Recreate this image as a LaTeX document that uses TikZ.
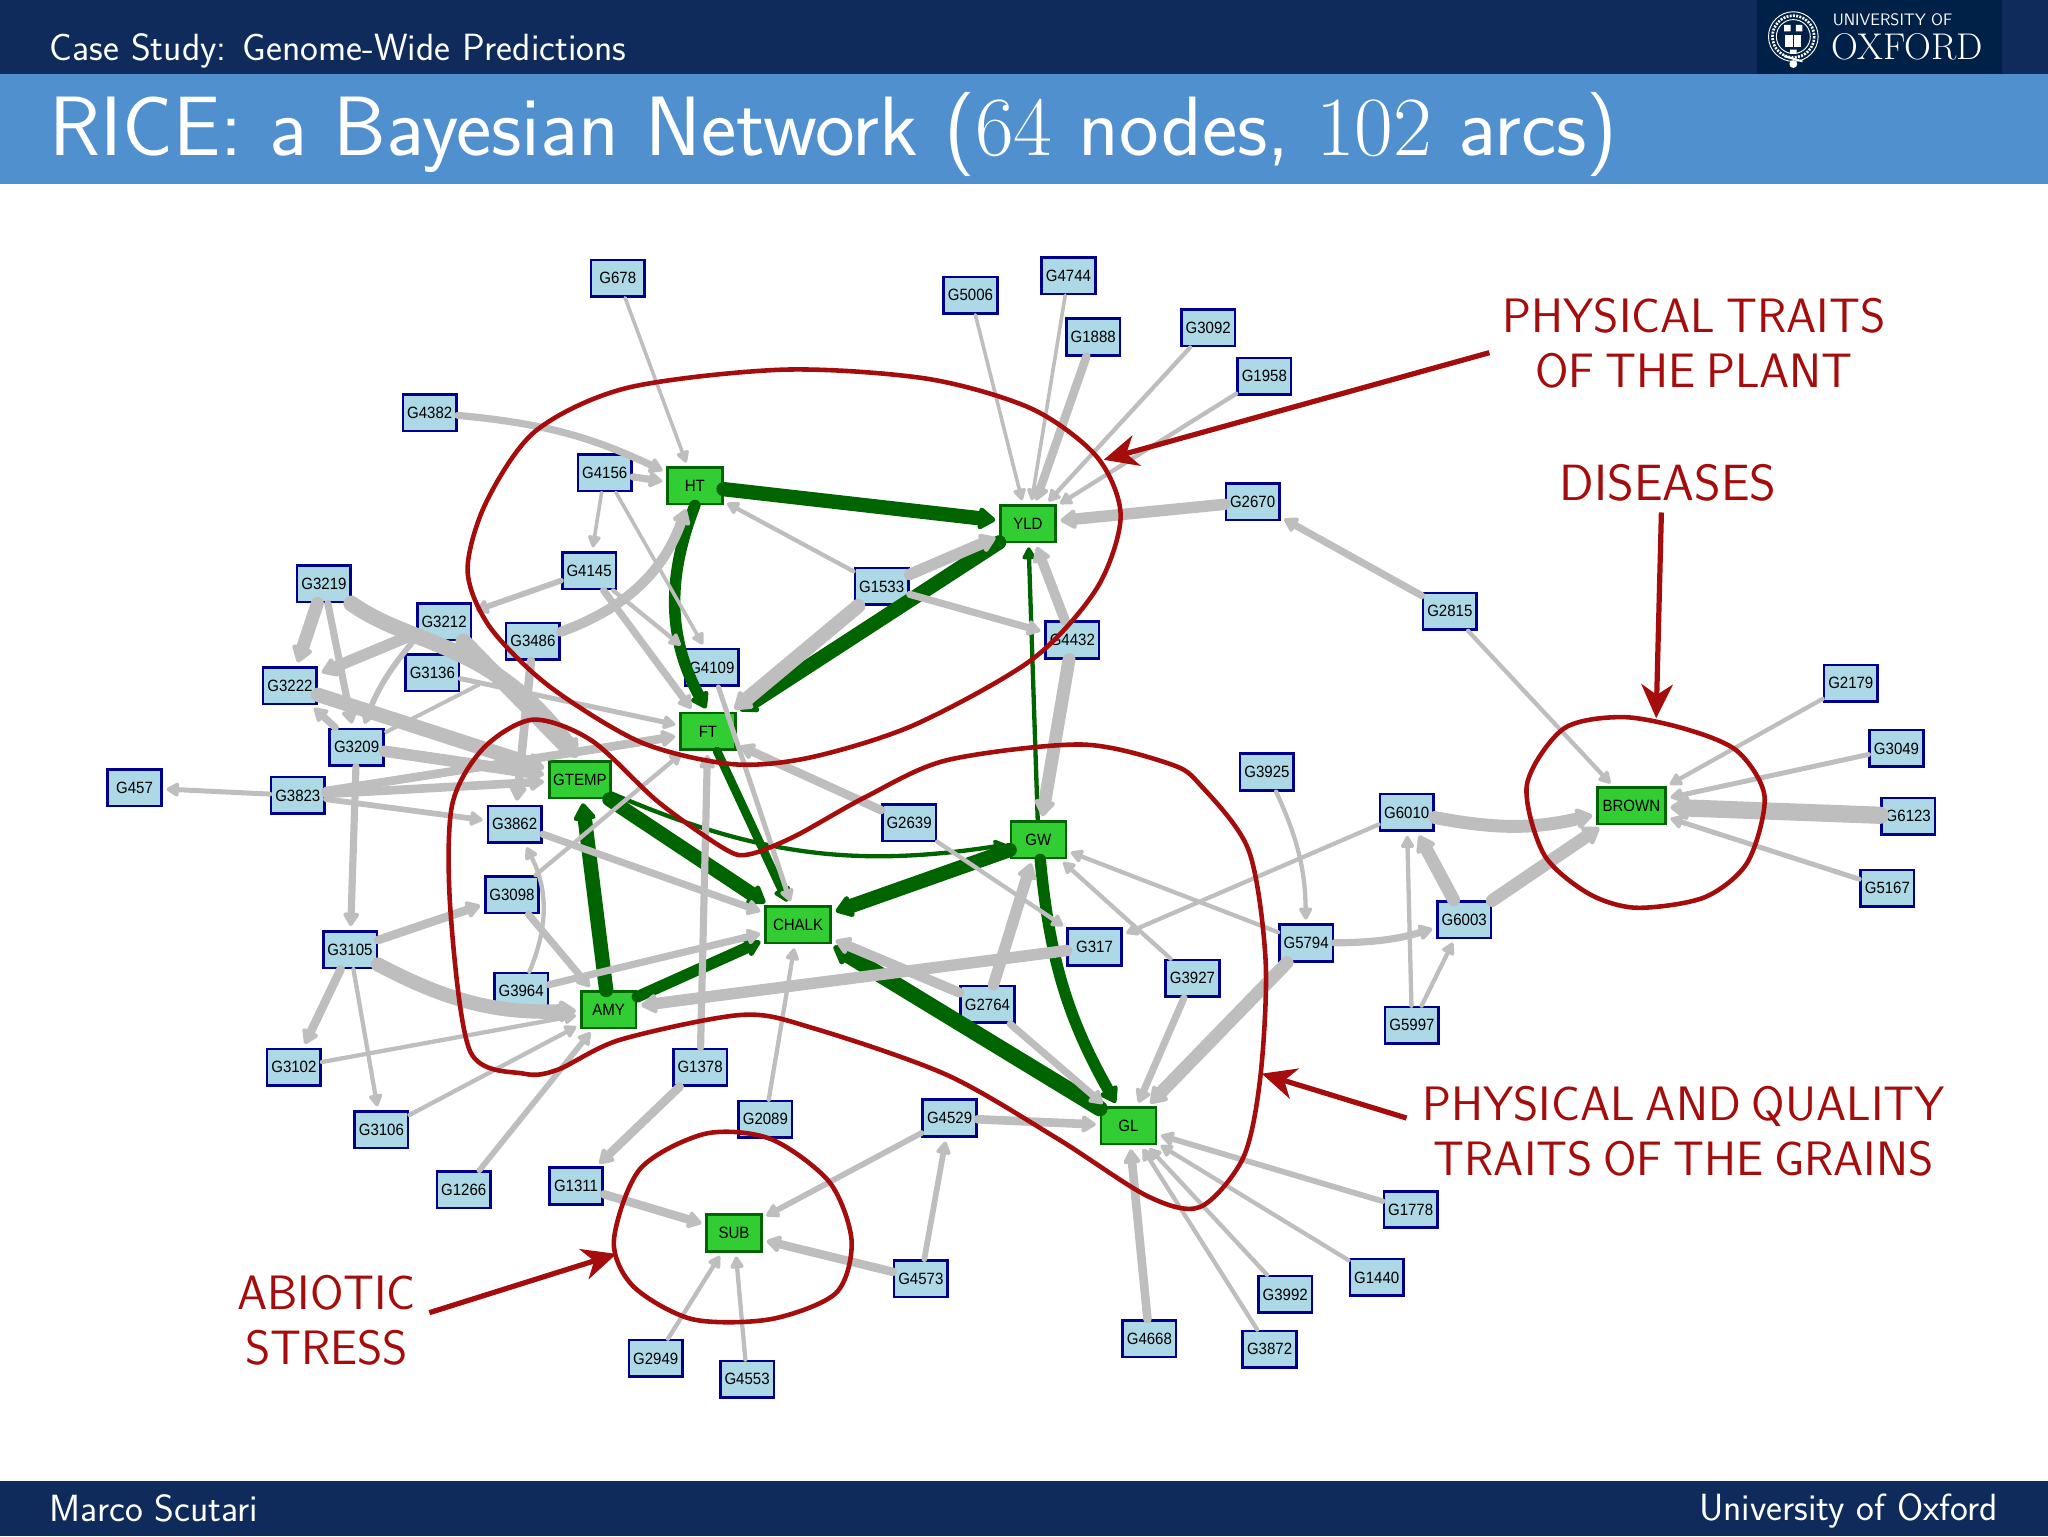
\documentclass[tikz,border=0pt]{standalone}
\usepackage{fontspec}
\usepackage{tikz}
\usetikzlibrary{arrows.meta}
\newfontfamily\genefont[FakeStretch=0.92]{Liberation Sans}
\newcommand\notefont{\sffamily\fontsize{37}{42}\selectfont\spaceskip=.22em\relax}
\definecolor{oxnavy}{HTML}{0F2B5C}
\definecolor{oxlogo}{HTML}{002147}
\definecolor{oxblue}{HTML}{5090CF}
\definecolor{oxred}{HTML}{A50C0C}
\definecolor{arcgray}{HTML}{BEBEBE}
\definecolor{arcgreen}{HTML}{006400}
\definecolor{genefill}{HTML}{ADD8E6}
\definecolor{genedraw}{HTML}{00008B}
\definecolor{traitfill}{HTML}{32CD32}
\tikzset{
    gene/.style={
           rectangle,
           draw=genedraw, line width=2pt,
           fill=genefill,
           minimum width=41pt,
           minimum height=28pt,
           inner sep=0pt,
           font=\genefont\fontsize{12.5}{13}\selectfont,
           text centered,
           },
    trait/.style={
           rectangle,
           draw=arcgreen, line width=2pt,
           fill=traitfill,
           minimum width=42pt,
           minimum height=28pt,
           inner sep=0pt,
           font=\genefont\fontsize{12.5}{13}\selectfont,
           text centered,
           },
    grayarc/.style={
           ->, draw=arcgray, line width=1.1*#1, line cap=round,
           shorten >=3pt,
           },
    greenarc/.style={
           ->, draw=arcgreen, line width=1.1*#1, line cap=round,
           shorten >=3pt,
           },
    group/.style={
           draw=oxred, line width=3.5pt,
           },
    pointer/.style={
           -{Stealth[length=26pt,width=24pt,inset=8pt]},
           draw=oxred, line width=4pt,
           },
    note/.style={
           text=oxred, align=center, inner sep=0pt,
           font=\notefont,
           },
    slidetext/.style={
           text=white, inner sep=0pt,
           font=\sffamily\fontsize{29}{32}\selectfont,
           },
}
\begin{document}
\begin{tikzpicture}
[
x=1pt,y=-1pt,
>={Stealth[round,line width=1pt 0.55,inset=0pt,length=9pt 0.5,width=8pt 1]}
]
\useasboundingbox (0,0) rectangle (1568,1176);

 % Slide frame
 \fill[oxnavy] (0,0) rectangle (1568,57);
 \fill[oxblue] (0,57) rectangle (1568,141);
 \fill[oxnavy] (0,1134) rectangle (1568,1176);
 \fill[oxlogo] (1345,0) rectangle (1533,57);

 \node[slidetext,anchor=west] (SECTION) at (38,39) {Case Study: Genome-Wide Predictions};
 \node[slidetext,anchor=west,font=\sffamily\fontsize{64.5}{70}\selectfont] (TITLE) at (38,103) {RICE: a Bayesian Network ({\rmfamily 64} nodes, {\rmfamily 102} arcs)};
 \node[slidetext,anchor=west] (AUTHOR) at (38,1155) {Marco Scutari};
 \node[slidetext,anchor=east] (PLACE) at (1530,1157) {University of Oxford};

 % Logo
 \draw[white,line width=0.7pt] (1373,28) circle (19) (1373,28) circle (13);
 \draw[white,line width=2pt,dash pattern=on 1.5pt off 1pt] (1373,28) circle (16);
 \fill[white] (1367,27) rectangle (1379,36);
 \draw[oxlogo,line width=0.6pt] (1373,27) -- (1373,36);
 \fill[white] (1366,19) rectangle (1371,24) (1375,19) rectangle (1380,24) (1370.5,38) rectangle (1375.5,41);
 \draw[white,line width=1.5pt] (1366,43) -- (1380,47);
 \fill[white] (1373,49) circle (3);
 \node[anchor=west,text=white,inner sep=0pt,font=\sffamily\fontsize{12.7}{14}\selectfont] (UNI) at (1403,15) {UNIVERSITY OF};
 \node[anchor=west,text=white,inner sep=0pt,font=\rmfamily\fontsize{28.5}{30}\selectfont] (OXF) at (1402,36) {OXFORD};

 % Trait nodes
 \node[trait] (HT) at (532,372) {HT};
 \node[trait] (YLD) at (787,401) {YLD};
 \node[trait] (FT) at (542,560) {FT};
 \node[trait,minimum width=47pt] (GTEMP) at (444,597) {GTEMP};
 \node[trait] (GW) at (795,643) {GW};
 \node[trait,minimum width=50pt] (CHALK) at (611,708) {CHALK};
 \node[trait] (AMY) at (466,773) {AMY};
 \node[trait] (GL) at (864,862) {GL};
 \node[trait] (SUB) at (562,944) {SUB};
 \node[trait,minimum width=52pt] (BROWN) at (1249,617) {BROWN};

 % Gene nodes
 \node[gene] (G678) at (473,213) {G678};
 \node[gene] (G5006) at (743,226) {G5006};
 \node[gene] (G4744) at (818,211) {G4744};
 \node[gene] (G1888) at (837,258) {G1888};
 \node[gene] (G3092) at (925,251) {G3092};
 \node[gene] (G1958) at (968,288) {G1958};
 \node[gene] (G4382) at (329,316) {G4382};
 \node[gene] (G4156) at (463,362) {G4156};
 \node[gene] (G2670) at (959,384) {G2670};
 \node[gene] (G4145) at (451,437) {G4145};
 \node[gene] (G3219) at (248,447) {G3219};
 \node[gene] (G1533) at (675,449) {G1533};
 \node[gene] (G2815) at (1110,468) {G2815};
 \node[gene] (G3212) at (340,476) {G3212};
 \node[gene] (G3486) at (408,491) {G3486};
 \node[gene] (G4432) at (821,490) {G4432};
 \node[gene] (G4109) at (545,511) {G4109};
 \node[gene] (G3136) at (331,515) {G3136};
 \node[gene] (G3222) at (222,525) {G3222};
 \node[gene] (G2179) at (1417,523) {G2179};
 \node[gene] (G3209) at (273,572) {G3209};
 \node[gene] (G3049) at (1452,573) {G3049};
 \node[gene] (G3925) at (970,591) {G3925};
 \node[gene] (G457) at (103,603) {G457};
 \node[gene] (G3823) at (228,609) {G3823};
 \node[gene] (G6010) at (1077,622) {G6010};
 \node[gene] (G6123) at (1461,625) {G6123};
 \node[gene] (G3862) at (394,631) {G3862};
 \node[gene] (G2639) at (696,630) {G2639};
 \node[gene] (G5167) at (1445,680) {G5167};
 \node[gene] (G3098) at (392,685) {G3098};
 \node[gene] (G6003) at (1121,704) {G6003};
 \node[gene] (G5794) at (1000,722) {G5794};
 \node[gene] (G317) at (838,725) {G317};
 \node[gene] (G3105) at (268,727) {G3105};
 \node[gene] (G3927) at (913,749) {G3927};
 \node[gene] (G3964) at (399,759) {G3964};
 \node[gene] (G2764) at (756,769) {G2764};
 \node[gene] (G5997) at (1081,785) {G5997};
 \node[gene] (G3102) at (225,817) {G3102};
 \node[gene] (G1378) at (536,817) {G1378};
 \node[gene] (G4529) at (727,856) {G4529};
 \node[gene] (G2089) at (586,857) {G2089};
 \node[gene] (G3106) at (292,865) {G3106};
 \node[gene] (G1311) at (441,908) {G1311};
 \node[gene] (G1266) at (355,911) {G1266};
 \node[gene] (G1778) at (1080,926) {G1778};
 \node[gene] (G4573) at (705,979) {G4573};
 \node[gene] (G1440) at (1054,978) {G1440};
 \node[gene] (G3992) at (984,991) {G3992};
 \node[gene] (G4668) at (880,1025) {G4668};
 \node[gene] (G3872) at (972,1033) {G3872};
 \node[gene] (G2949) at (502,1040) {G2949};
 \node[gene] (G4553) at (572,1056) {G4553};

 % Green arcs
 \path
 (HT.south) edge[greenarc=8,bend right=25] (FT.north)
 (HT) edge[greenarc=10] (YLD)
 (YLD) edge[greenarc=10] (FT)
 (GW) edge[greenarc=3] (YLD)
 (FT) edge[greenarc=6] (CHALK)
 (AMY) edge[greenarc=8] (CHALK)
 (AMY) edge[greenarc=10] (GTEMP)
 (GTEMP) edge[greenarc=10] (CHALK)
 (GTEMP) edge[greenarc=3,bend right=16] (GW)
 (GW) edge[greenarc=10] (CHALK)
 (GL) edge[greenarc=11] (CHALK)
 (GW) edge[greenarc=8,bend right=12] (GL)
 ;

 % Gray arcs
 \coordinate (BAND) at (367,524);
 \draw[grayarc=11] (G3219) .. controls (315,495) and (375,490) .. (GTEMP.north);
 \path
 (G678) edge[grayarc=2.5] (HT)
 (G5006) edge[grayarc=2.5] (YLD)
 (G4744) edge[grayarc=2.5] (YLD)
 (G1888) edge[grayarc=6] (YLD)
 (G3092) edge[grayarc=3] (YLD)
 (G1958) edge[grayarc=3] (YLD)
 (G4382) edge[grayarc=5,bend left=10] (HT)
 (G4156) edge[grayarc=5] (HT)
 (G4156) edge[grayarc=2.5] (G4145)
 (G4156) edge[grayarc=2.5] (G4109.110)
 (G4145) edge[grayarc=4] (G3212)
 (G4145) edge[grayarc=5] (FT)
 (G4145) edge[grayarc=3] (G4109.north west)
 (G3486) edge[grayarc=7,bend right=25] (HT)
 (G1533) edge[grayarc=3] (HT)
 (G1533) edge[grayarc=8] (YLD)
 (G1533) edge[grayarc=5] (G4432)
 (G1533) edge[grayarc=10] (FT)
 (G4432) edge[grayarc=7] (YLD)
 (G4432) edge[grayarc=9] (GW)
 (G2670) edge[grayarc=8] (YLD)
 (G2815) edge[grayarc=5] (G2670)
 (G2815) edge[grayarc=3] (BROWN)
 (G6010) edge[grayarc=9,bend right=12] (BROWN)
 (G6003) edge[grayarc=9] (BROWN)
 (G6003) edge[grayarc=9] (G6010)
 (G5997) edge[grayarc=3] (G6010)
 (G5997) edge[grayarc=3] (G6003)
 (G5794) edge[grayarc=5,bend right=8] (G6003)
 (G3925) edge[grayarc=3,bend left=12] (G5794)
 (G6010) edge[grayarc=3] (G317)
 (G5794) edge[grayarc=3] (GW)
 (G5794) edge[grayarc=9] (GL)
 (G3927) edge[grayarc=5] (GL)
 (G3927) edge[grayarc=3] (GW)
 (G2179) edge[grayarc=3] (BROWN)
 (G3049) edge[grayarc=3.5] (BROWN)
 (G6123) edge[grayarc=12] (BROWN)
 (G5167) edge[grayarc=3.5] (BROWN)
 (G1778) edge[grayarc=4] (GL)
 (G1440) edge[grayarc=3] (GL)
 (G3992) edge[grayarc=3] (GL)
 (G3872) edge[grayarc=3] (GL)
 (G4668) edge[grayarc=6] (GL)
 (G4529) edge[grayarc=6] (GL)
 (G4529) edge[grayarc=4] (SUB)
 (G4573) edge[grayarc=4] (G4529)
 (G4573) edge[grayarc=6] (SUB)
 (G1311) edge[grayarc=6] (SUB)
 (G1378) edge[grayarc=6] (G1311)
 (G2949) edge[grayarc=3] (SUB)
 (G4553) edge[grayarc=3] (SUB)
 (G2089) edge[grayarc=3] (CHALK)
 (G1378) edge[grayarc=5] (FT)
 (G2764) edge[grayarc=7] (CHALK)
 (G2764) edge[grayarc=8] (GW)
 (G2764) edge[grayarc=5] (GL)
 (G2639) edge[grayarc=3] (G317)
 (G2639) edge[grayarc=6] (FT)
 (G4109) edge[grayarc=3.5] (CHALK)
 (G3098) edge[grayarc=3] (FT)
 (G3964) edge[grayarc=3,bend right=25] (G3862)
 (G3098) edge[grayarc=5] (AMY)
 (G3964) edge[grayarc=5] (CHALK)
 (G3862) edge[grayarc=5] (CHALK)
 (G317) edge[grayarc=8] (AMY)
 (G3105) edge[grayarc=6] (G3098)
 (G3105) edge[grayarc=10,bend right=15] (AMY)
 (G3105) edge[grayarc=6] (G3102)
 (G3105) edge[grayarc=3] (G3106)
 (G3209) edge[grayarc=5] (G3105)
 (G3102) edge[grayarc=3] (AMY)
 (G3106) edge[grayarc=3] (AMY)
 (G1266) edge[grayarc=4] (AMY)
 (G3823) edge[grayarc=3.5] (G457)
 (G3823) edge[grayarc=4] (G3862)
 (G3823) edge[grayarc=6] (FT)
 (G3823) edge[grayarc=6] (GTEMP)
 (G3219) edge[grayarc=9] (G3222)
 (G3219) edge[grayarc=5] (G3209)
 (G3212) edge[grayarc=11] (GTEMP.north)
 (G3212) edge[grayarc=8] (G3222)
 (G3212.210) edge[grayarc=4,bend right=10] (G3209)
 (G3222) edge[grayarc=10] (GTEMP)
 (G3209) edge[grayarc=5] (G3222)
 (G3136) edge[grayarc=3.5] (FT)
 (G3209) edge[draw=arcgray,line width=3pt] (BAND)
 (G3209) edge[grayarc=8] (GTEMP)
 (G3486) edge[grayarc=6] (G3862)
 ;

 % Groups of traits
 \draw[group] plot[smooth cycle] coordinates {(358,437) (372,385) (410,330) (480,297) (600,283) (710,290) (790,313) (840,350) (858,395) (840,450) (790,505) (700,555) (620,580) (560,585) (490,568) (420,525) (375,480)};
 \draw[group] plot[smooth cycle] coordinates {(346,617) (345,699) (360,805) (401,822) (427,819) (475,796) (568,777) (622,787) (725,823) (810,872) (879,916) (919,924) (952,886) (965,824) (969,736) (956,651) (919,601) (896,585) (828,570) (725,582) (663,610) (609,640) (574,654) (555,650) (504,614) (453,567) (408,551) (370,573)};
 \draw[group] plot[smooth cycle] coordinates {(470,950) (490,895) (540,868) (590,872) (635,905) (652,950) (640,990) (590,1010) (530,1010) (485,985)};
 \draw[group] plot[smooth cycle] coordinates {(1169,601) (1197,558) (1242,549) (1290,558) (1330,575) (1351,610) (1338,660) (1305,687) (1253,695) (1216,684) (1182,654)};

 % Labels of the groups
 \node[note] (PLANT) at (1297,263) {PHYSICAL TRAITS\\OF THE PLANT};
 \node[note,font=\sffamily\fontsize{39}{42}\selectfont] (DISEASES) at (1277,370) {DISEASES};
 \node[note] (GRAINS) at (1289,866) {PHYSICAL AND QUALITY\\TRAITS OF THE GRAINS};
 \node[note] (STRESS) at (250,1011) {ABIOTIC\\STRESS};

 \coordinate (PLANTEND) at (845,352);
 \coordinate (DISEASESEND) at (1268,550);
 \coordinate (GRAINSEND) at (966,822);
 \coordinate (STRESSEND) at (472,960);
 \draw[pointer] (PLANT.west |- 0,270) ++(-10,0) -- (PLANTEND);
 \draw[pointer] (DISEASES.south) ++(-5,8) -- (DISEASESEND);
 \draw[pointer] (GRAINS.west) ++(-12,-10) -- (GRAINSEND);
 \draw[pointer] (STRESS.east) ++(10,-6) -- (STRESSEND);
\end{tikzpicture}
\end{document}
